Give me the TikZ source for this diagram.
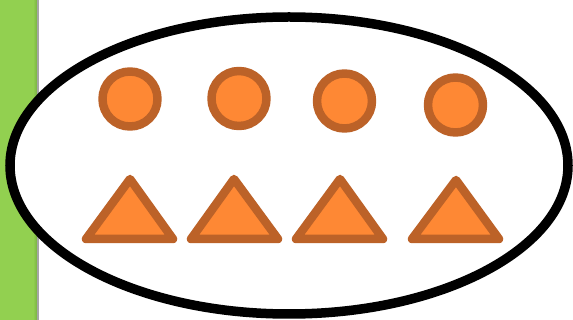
\documentclass[tikz,border=0pt]{standalone}
\definecolor{barg}{RGB}{146,208,80}
\definecolor{barshade}{RGB}{122,178,66}
\definecolor{bargray}{RGB}{165,165,165}
\definecolor{ofill}{RGB}{254,136,52}
\definecolor{oline}{RGB}{188,98,40}
\tikzset{
  shapeor/.style={fill=ofill, draw=oline, line width=8.5pt, line join=round},
  bigoval/.style={fill=white, draw=black, line width=9.5pt}
}
\begin{document}
\begin{tikzpicture}[x=1pt,y=-1pt]
\useasboundingbox (0,0) rectangle (573,320);
\fill[white] (0,0) rectangle (573,320);
% green side bar
\fill[barg] (0,0) rectangle (33,320);
\shade[left color=barg, right color=barshade] (33,0) rectangle (37,320);
\fill[bargray] (37,0) rectangle (39,320);
% ellipse
\draw[bigoval] (289,165.5) ellipse [x radius=279, y radius=148.5];
% circles
\foreach \cx/\cy in {130/99, 239/98.5, 344.5/101, 455.5/105}
  \draw[shapeor] (\cx,\cy) circle [radius=27.5];
% triangles
\foreach \ax/\ay/\bl/\br in {130/179/86/173, 234/179/191/278, 340/179/296/383, 456/180/412/499}
  \draw[shapeor] (\ax,\ay) -- (\br,239) -- (\bl,239) -- cycle;
\end{tikzpicture}
\end{document}
